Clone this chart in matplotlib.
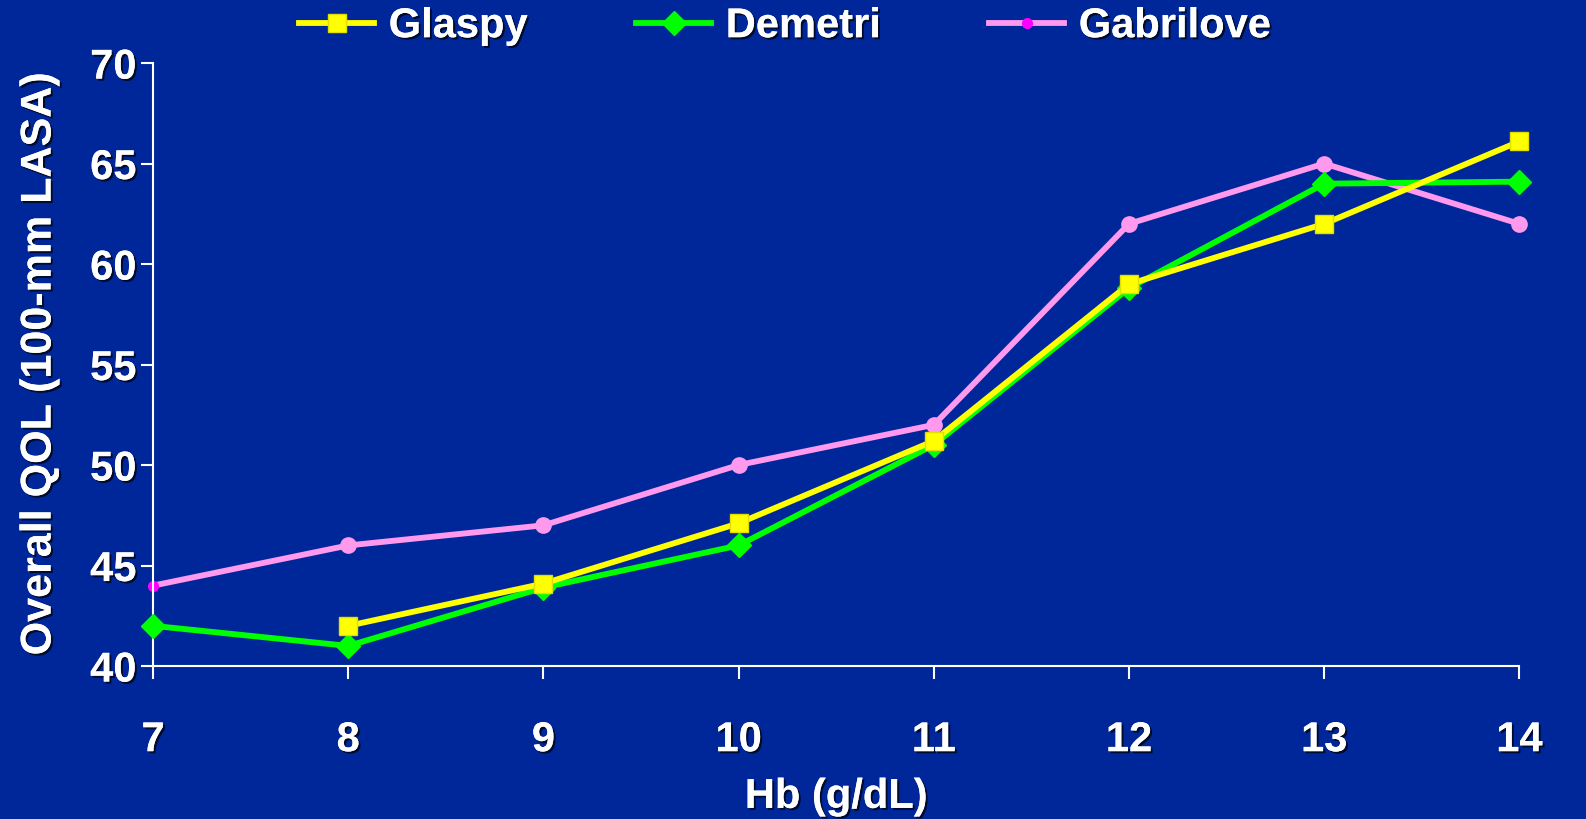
import matplotlib
matplotlib.use('Agg')
import matplotlib.pyplot as plt
import matplotlib.patheffects as pe

# Hb levels and QOL scores
hb = [7, 8, 9, 10, 11, 12, 13, 14]
glaspy_x = [8, 9, 10, 11, 12, 13, 14]
glaspy = [42, 44.1, 47.1, 51.2, 59, 62, 66.1]
demetri = [42, 41, 43.9, 46, 51, 58.8, 64, 64.1]
gabrilove = [44, 46, 47, 50, 52, 62, 65, 62]

x_ticks = [7, 8, 9, 10, 11, 12, 13, 14]
y_ticks = [40, 45, 50, 55, 60, 65, 70]

bg = '#00279A'
plt.rcParams['font.family'] = ['Liberation Sans', 'DejaVu Sans']
plt.rcParams['font.weight'] = 'bold'

shadow = [pe.withSimplePatchShadow(offset=(1.5, -1.5), shadow_rgbFace='black', alpha=0.7), pe.Normal()]

fig = plt.figure(figsize=(15.86, 8.19), dpi=100, facecolor=bg)
ax = fig.add_axes([0.0965, 0.1868, 0.8615, 0.7362])
ax.set_facecolor(bg)

ax.plot(glaspy_x, glaspy, color='#FFFF00', lw=4.2, marker='s', ms=13,
        mec='#E0E000', label='Glaspy', clip_on=False, zorder=4)
ax.plot(hb, demetri, color='#00FF00', lw=4.2, marker='D', ms=12,
        label='Demetri', clip_on=False, zorder=3)
ax.plot(hb, gabrilove, color='#FF99EE', lw=4.2, marker='o', ms=7,
        mfc='#FF00FF', mec='#FF00FF', label='Gabrilove', clip_on=False, zorder=2)
# larger pale circles on all but the first Gabrilove point
ax.plot(hb[1:], gabrilove[1:], ls='none', marker='o', ms=11,
        color='#FF99EE', clip_on=False, zorder=2)

ax.set_xlim(7, 14)
ax.set_ylim(40, 70)
ax.set_xticks(x_ticks)
ax.set_yticks(y_ticks)

for s in ['top', 'right']:
    ax.spines[s].set_visible(False)
for s in ['left', 'bottom']:
    ax.spines[s].set_color('white')
    ax.spines[s].set_linewidth(1.5)

ax.tick_params(axis='both', direction='out', colors='white', length=9, width=1.5)
ax.tick_params(axis='x', pad=30, labelsize=30)
ax.tick_params(axis='y', pad=3, labelsize=30)
for lab in ax.get_xticklabels() + ax.get_yticklabels():
    lab.set_fontweight('bold')
    lab.set_path_effects(shadow)

ax.set_xlabel('Hb (g/dL)', color='white', fontsize=30, fontweight='bold',
              labelpad=12, path_effects=shadow)
ax.set_ylabel('Overall QOL (100-mm LASA)', color='white', fontsize=31,
              fontweight='bold', labelpad=22, path_effects=shadow)

leg = fig.legend(loc='center', bbox_to_anchor=(0.495, 0.968), ncol=3, frameon=False,
                 handlelength=1.8, columnspacing=2.6, handletextpad=0.35,
                 prop={'weight': 'bold', 'size': 30})
for t in leg.get_texts():
    t.set_color('white')
    t.set_path_effects(shadow)

fig.savefig('out.png', dpi=100, facecolor=bg)
